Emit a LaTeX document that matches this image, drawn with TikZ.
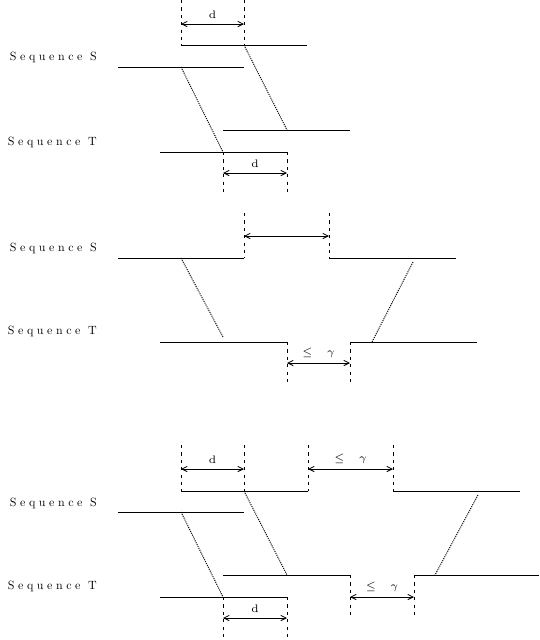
\documentclass[tikz,border=0pt]{standalone}
\usepackage{fontspec}
\usepackage{amsmath}
\usetikzlibrary{arrows.meta}
\newfontfamily\seqfont{lmroman10-regular.otf}[LetterSpace=30]

\tikzset{
  seqline/.style={line width=0.5pt},
  guide/.style={line width=0.5pt, dash pattern=on 1.8pt off 2.4pt},
  link/.style={line width=0.55pt, dash pattern=on 0.6pt off 0.6pt},
  gap/.style={<->, line width=0.5pt, >={Straight Barb[length=3pt,width=3pt]}},
  gaplabel/.style={midway, above=2.8pt, inner sep=0pt, font=\fontsize{6.2}{7}\selectfont},
  seqlabel/.style={anchor=base east, inner sep=0pt, font=\seqfont\fontsize{6.8}{7}\selectfont}
}

\begin{document}
\begin{tikzpicture}[x=0.02cm, y=-0.02cm]
\useasboundingbox (0,0) rectangle (539,640);

\draw[guide] (181,0) -- (181,45);
\draw[guide] (244,0) -- (244,45);
\draw[gap] (181,24) -- (244,24) node[gaplabel] {d};
\draw[seqline] (181,45) -- (307,45);
\draw[seqline] (118,67) -- (244,67);
\node[seqlabel] (seqS1) at (97,60) {Sequence S};
\draw[link] (181,67) -- (223,152);
\draw[link] (244,45) -- (287,130);
\draw[seqline] (223,130) -- (350,130);
\draw[seqline] (160,152) -- (287,152);
\node[seqlabel] (seqT1) at (97,145) {Sequence T};
\draw[guide] (223,152) -- (223,192);
\draw[guide] (287,152) -- (287,192);
\draw[gap] (223,173) -- (287,173) node[gaplabel] {d};

\draw[guide] (244,213) -- (244,258);
\draw[guide] (329,213) -- (329,258);
\draw[gap] (244,236) -- (329,236);
\draw[seqline] (118,258) -- (244,258);
\draw[seqline] (329,258) -- (456,258);
\node[seqlabel] (seqS2) at (97,251) {Sequence S};
\draw[link] (181,258) -- (223,337);
\draw[link] (413,262) -- (372,342);
\draw[seqline] (160,342) -- (287,342);
\draw[seqline] (350,342) -- (477,342);
\node[seqlabel] (seqT2) at (97,334) {Sequence T};
\draw[guide] (287,342) -- (287,385);
\draw[guide] (350,342) -- (350,385);
\draw[gap] (287,363) -- (350,363) node[gaplabel] {$\leq\quad\gamma$};

\draw[guide] (181,445) -- (181,491);
\draw[guide] (244,445) -- (244,491);
\draw[guide] (308,445) -- (308,491);
\draw[guide] (393,445) -- (393,491);
\draw[gap] (181,469) -- (244,469) node[gaplabel] {d};
\draw[gap] (308,469) -- (393,469) node[gaplabel] {$\leq\quad\gamma$};
\draw[seqline] (181,491) -- (308,491);
\draw[seqline] (393,491) -- (520,491);
\draw[seqline] (118,512) -- (244,512);
\node[seqlabel] (seqS3) at (97,506) {Sequence S};
\draw[link] (181,512) -- (223,597);
\draw[link] (244,491) -- (287,575);
\draw[link] (478,495) -- (435,575);
\draw[seqline] (223,575) -- (350,575);
\draw[seqline] (414,575) -- (539,575);
\draw[seqline] (160,597) -- (287,597);
\node[seqlabel] (seqT3) at (97,589) {Sequence T};
\draw[guide] (223,597) -- (223,640);
\draw[guide] (287,597) -- (287,640);
\draw[gap] (223,618) -- (287,618) node[gaplabel] {d};
\draw[guide] (350,575) -- (350,618);
\draw[guide] (414,575) -- (414,618);
\draw[gap] (350,597) -- (414,597) node[gaplabel] {$\leq\quad\gamma$};
\end{tikzpicture}
\end{document}
